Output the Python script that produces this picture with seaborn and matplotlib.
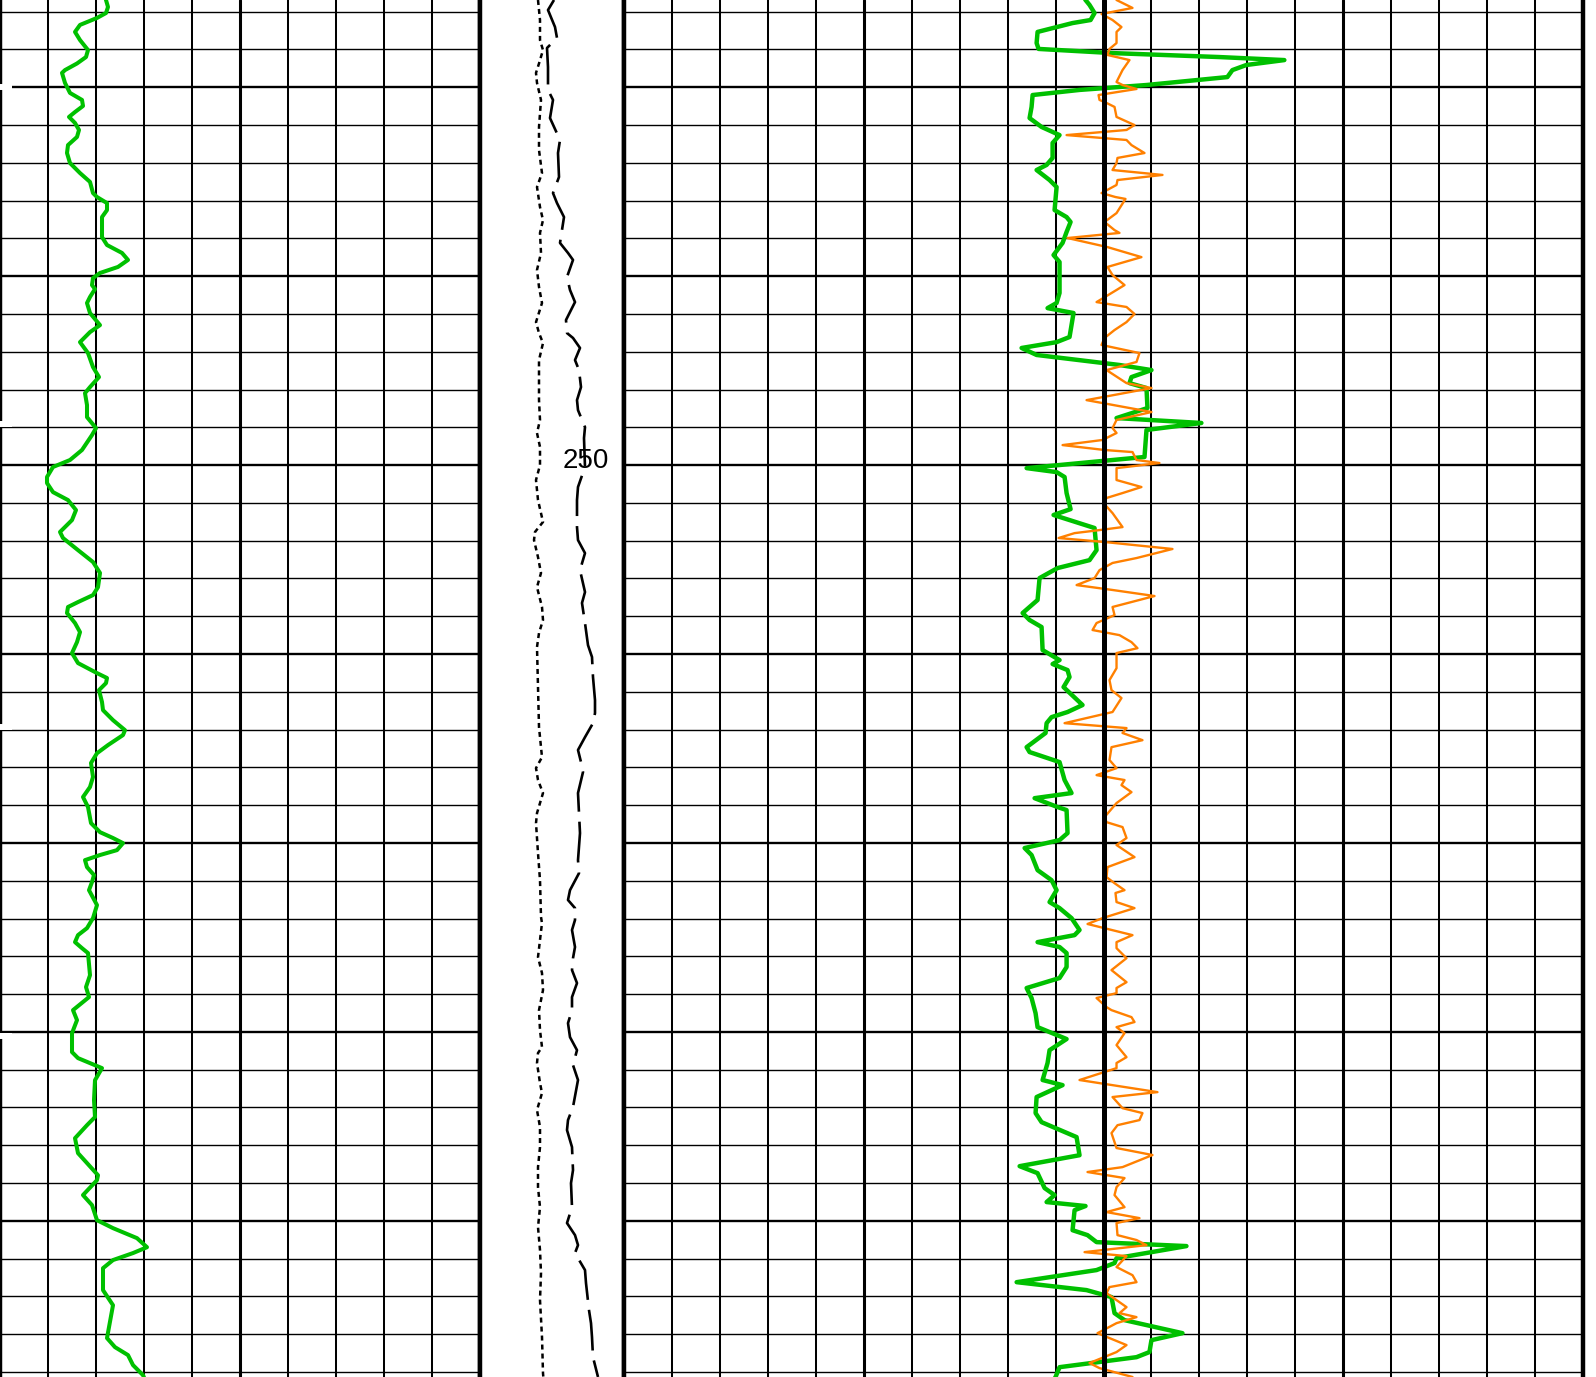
import numpy as np
import matplotlib
matplotlib.use("Agg")
import matplotlib.pyplot as plt
import seaborn as sns

# ---------------- data ----------------
# Track 1 : gamma-ray style curve (0-120 scale)
gr_depth = [224.96, 225.38, 225.75, 226.07, 226.33, 226.70, 227.07, 227.50, 228.03, 228.40,
            228.74, 229.09, 229.24, 229.77, 230.30, 230.67, 230.99, 231.31, 231.57, 231.89,
            232.26, 232.63, 233.06, 233.48, 234.01, 234.54, 235.01, 235.60, 235.81, 236.13,
            236.50, 236.87, 237.93, 238.35, 238.77, 239.14, 239.51, 239.83, 240.10, 240.47,
            240.68, 241.10, 241.42, 241.95, 242.59, 242.96, 243.49, 244.07, 244.81, 245.34,
            245.87, 246.19, 246.82, 247.46, 248.04, 248.41, 249.20, 249.73, 250.10, 250.63,
            250.95, 251.43, 251.85, 252.38, 252.91, 253.54, 253.86, 254.50, 255.13, 255.71,
            256.46, 256.88, 257.25, 257.51, 257.83, 258.36, 258.84, 259.37, 259.95, 260.48,
            261.01, 261.27, 261.54, 261.91, 262.54, 262.97, 263.50, 264.03, 264.29, 264.82,
            265.25, 265.77, 266.51, 267.04, 267.57, 268.10, 268.95, 269.43, 269.74, 270.01,
            270.38, 270.64, 270.91, 271.28, 271.70, 272.07, 272.50, 273.29, 273.98, 274.51,
            274.88, 275.25, 275.57, 275.83, 277.00, 277.63, 278.16, 278.85, 279.38, 280.07,
            281.07, 281.39, 281.92, 282.56, 283.61, 284.51, 284.94, 285.63, 286.42, 286.95,
            287.59, 287.85, 288.64, 289.17, 289.97, 290.39, 290.92, 291.40, 291.71, 292.08,
            292.51, 293.67, 294.47, 296.21, 296.69, 297.11, 297.64, 298.17, 298.54]
gr_value = [26.0, 26.5, 27.0, 26.5, 24.25, 20.0, 18.75, 20.0, 22.0, 21.5,
            19.25, 16.25, 15.5, 16.25, 17.5, 20.5, 20.75, 18.75, 17.25, 18.75,
            19.75, 19.25, 17.0, 16.75, 17.5, 20.0, 22.5, 23.25, 24.25, 26.75,
            26.75, 25.5, 25.5, 26.75, 30.5, 32.0, 29.5, 25.0, 23.25, 23.0,
            23.75, 22.5, 21.75, 22.5, 25.0, 22.5, 20.0, 22.0, 23.25, 24.75,
            22.5, 21.25, 21.75, 21.75, 24.0, 23.0, 20.5, 17.5, 13.25, 11.75,
            11.75, 13.25, 17.0, 19.0, 18.0, 15.0, 15.75, 19.5, 23.25, 25.0,
            24.5, 23.25, 19.5, 17.0, 16.75, 18.75, 20.0, 19.25, 18.0, 19.5,
            24.25, 26.75, 26.5, 24.75, 25.5, 25.75, 28.25, 31.25, 30.75, 27.0,
            24.25, 22.75, 23.25, 22.5, 20.75, 22.0, 22.75, 25.0, 28.25, 30.75,
            29.25, 25.0, 21.25, 21.75, 23.5, 23.0, 22.25, 24.25, 23.25, 21.75,
            19.5, 18.75, 20.5, 22.0, 22.5, 21.5, 22.25, 18.25, 19.25, 18.0,
            18.0, 19.5, 25.5, 23.75, 23.5, 23.75, 21.75, 18.75, 19.5, 21.75,
            24.5, 24.25, 20.75, 23.0, 24.25, 28.25, 34.25, 36.75, 33.25, 28.25,
            25.75, 25.75, 28.25, 26.75, 28.75, 32.0, 33.25, 35.75, 36.5]

# Depth track : dotted curve and dashed curve (0-72 scale)
dotted_depth = [225.38, 226.44, 227.50, 228.03, 228.74, 229.24, 229.77, 230.67, 232.10, 233.32,
                234.54, 235.28, 236.34, 237.03, 237.71, 238.77, 239.67, 240.57, 241.42, 242.43,
                243.01, 243.54, 244.44, 246.56, 247.61, 248.30, 249.04, 250.00, 250.79, 251.85,
                253.01, 253.54, 253.97, 254.87, 255.71, 256.46, 257.51, 258.20, 258.89, 259.63,
                261.75, 263.87, 264.93, 265.46, 266.04, 266.67, 267.36, 268.42, 268.95, 270.54,
                271.97, 273.92, 274.24, 275.14, 276.04, 276.89, 277.79, 278.85, 279.91, 280.81,
                281.12, 281.65, 282.71, 283.24, 284.14, 285.04, 286.10, 287.16, 288.22, 289.28,
                290.34, 291.55, 292.77, 294.20, 296.16, 298.07, 298.70]
dotted_value = [29.0, 30.0, 30.0, 31.5, 29.5, 28.0, 28.5, 30.5, 29.5, 29.5,
                31.0, 28.5, 30.0, 31.5, 30.0, 30.5, 28.5, 29.5, 31.0, 28.0,
                29.5, 31.5, 29.5, 29.5, 30.0, 28.5, 30.0, 30.0, 28.0, 29.0,
                31.5, 27.5, 27.0, 29.0, 30.5, 28.5, 31.0, 31.5, 29.5, 28.5,
                29.0, 29.5, 30.5, 31.0, 28.0, 29.0, 31.5, 28.5, 28.0, 29.0,
                30.0, 30.5, 31.0, 30.0, 29.0, 31.0, 31.5, 29.5, 30.0, 31.0,
                29.0, 28.5, 30.0, 31.0, 28.5, 30.0, 30.0, 29.0, 29.0, 30.0,
                29.0, 30.0, 30.5, 30.0, 31.0, 31.5, 32.0]

dashed_depth = [225.38, 225.91, 226.81, 227.39, 227.92, 228.93, 230.14, 230.67, 231.63, 232.79,
                233.48, 234.75, 235.60, 236.13, 236.87, 238.24, 238.77, 239.14, 240.04, 240.73,
                241.37, 242.32, 243.01, 243.27, 243.80, 244.44, 244.97, 245.87, 246.56, 247.09,
                247.99, 248.57, 250.10, 251.16, 251.85, 253.28, 253.97, 254.66, 255.56, 256.72,
                257.30, 258.36, 259.53, 260.16, 261.22, 262.44, 263.13, 263.66, 264.40, 265.08,
                265.72, 266.25, 267.36, 268.42, 269.48, 270.91, 271.60, 272.50, 273.02, 273.45,
                274.08, 274.61, 275.51, 276.10, 276.73, 277.42, 278.16, 278.85, 279.54, 280.28,
                280.97, 281.76, 282.55, 283.98, 284.67, 285.20, 286.10, 287.32, 288.01, 289.28,
                290.12, 290.76, 291.29, 291.71, 292.61, 293.30, 294.73, 295.42, 296.16, 297.22,
                298.27]
dashed_value = [37.0, 34.0, 37.5, 38.5, 33.5, 34.0, 34.0, 36.5, 35.0, 40.0,
                39.0, 39.5, 36.5, 38.5, 42.0, 40.0, 44.0, 46.5, 43.5, 45.0,
                47.5, 43.0, 43.5, 46.5, 50.0, 47.5, 49.5, 50.5, 48.5, 49.0,
                52.5, 52.0, 52.5, 49.0, 48.5, 48.5, 49.0, 52.5, 50.0, 52.5,
                51.0, 52.5, 54.0, 56.0, 56.5, 57.5, 57.5, 56.5, 52.5, 49.0,
                50.5, 51.5, 49.0, 49.5, 50.0, 49.0, 49.5, 45.0, 44.0, 47.5,
                47.5, 46.0, 47.5, 46.5, 46.0, 48.5, 46.0, 46.0, 44.0, 45.0,
                48.5, 46.5, 49.0, 46.5, 44.0, 43.5, 46.0, 46.5, 45.5, 46.0,
                43.5, 47.5, 49.0, 47.5, 52.5, 53.0, 54.5, 55.5, 56.0, 56.5,
                59.0]

# Track 3 : thick green curve and thin orange curve (0-120 scale)
green3_depth = [224.96, 225.38, 225.64, 226.07, 226.44, 226.60, 227.07, 227.66, 227.97, 228.19,
                228.40, 228.56, 228.82, 229.09, 229.46, 229.88, 230.14, 230.41, 231.04, 231.63,
                232.10, 232.53, 232.95, 233.74, 234.11, 234.38, 234.91, 235.28, 236.50, 236.87,
                237.13, 237.66, 238.24, 238.88, 239.25, 240.36, 240.89, 241.42, 241.69, 241.95,
                243.22, 243.49, 243.80, 244.17, 244.70, 244.97, 245.34, 245.66, 245.92, 246.98,
                247.51, 247.77, 248.14, 249.57, 250.16, 250.37, 250.63, 251.48, 252.33, 252.64,
                253.33, 254.50, 255.03, 255.45, 255.98, 257.14, 257.83, 258.20, 258.57, 259.79,
                260.32, 260.53, 260.85, 261.22, 261.75, 262.70, 263.07, 263.34, 263.66, 264.18,
                264.93, 265.19, 265.72, 266.67, 267.36, 267.63, 268.10, 268.26, 269.48, 269.85,
                270.27, 270.64, 271.44, 271.97, 272.50, 273.13, 273.45, 273.98, 274.61, 274.88,
                275.25, 275.51, 275.83, 276.57, 277.15, 277.68, 278.21, 279.01, 279.75, 280.38,
                280.97, 281.65, 282.55, 282.82, 283.45, 284.30, 284.78, 285.57, 286.53, 287.11,
                287.48, 288.27, 288.64, 289.01, 289.22, 289.44, 290.50, 290.76, 291.13, 291.34,
                291.98, 292.24, 292.61, 293.25, 293.67, 294.04, 294.89, 295.26, 295.95, 296.32,
                296.95, 297.22, 297.75, 298.27, 298.60]
green3_value = [57.25, 57.75, 58.25, 58.88, 58.38, 56.13, 51.75, 51.63, 51.88, 61.13,
                74.5, 82.63, 77.88, 76.13, 75.5, 65.38, 57.0, 51.13, 51.0, 50.75,
                52.25, 54.5, 53.63, 53.63, 52.88, 51.63, 53.25, 54.13, 53.88, 55.38,
                55.88, 55.38, 54.88, 53.75, 54.5, 54.5, 54.5, 54.13, 53.0, 56.25,
                55.75, 54.13, 49.75, 51.63, 62.0, 66.0, 63.5, 63.25, 65.38, 65.5,
                61.63, 72.25, 65.38, 65.13, 50.38, 54.13, 55.13, 55.38, 55.88, 53.75,
                58.88, 59.13, 58.25, 54.25, 52.0, 51.75, 49.88, 50.75, 52.25, 52.38,
                54.5, 53.63, 55.5, 55.75, 55.0, 57.38, 55.5, 53.5, 52.88, 52.75,
                50.38, 50.75, 54.5, 55.13, 56.0, 51.38, 54.25, 55.38, 55.5, 54.5,
                50.13, 51.0, 51.75, 53.5, 54.13, 53.25, 54.5, 56.0, 57.0, 56.38,
                51.75, 54.5, 55.38, 55.38, 54.5, 50.38, 51.0, 51.5, 51.75, 55.38,
                53.25, 53.0, 52.38, 54.88, 51.63, 51.5, 52.25, 56.63, 57.0, 49.5,
                51.75, 52.63, 53.88, 52.88, 57.75, 56.38, 56.13, 58.0, 59.13, 70.38,
                61.63, 61.38, 59.13, 49.13, 57.88, 61.0, 61.38, 62.63, 69.88, 66.0,
                65.75, 64.13, 54.5, 54.0, 53.5]

orange3_depth = [224.96, 225.38, 225.80, 226.12, 226.44, 226.81, 227.07, 227.66, 227.97, 228.29,
                 228.56, 229.09, 229.72, 229.88, 230.09, 230.41, 230.67, 230.83, 231.04, 231.57,
                 232.00, 232.26, 232.53, 232.79, 233.06, 233.48, 233.74, 234.01, 234.38, 234.64,
                 234.91, 235.17, 235.60, 235.81, 235.91, 236.66, 237.13, 237.56, 237.71, 237.98,
                 238.46, 238.99, 239.51, 239.94, 240.47, 240.73, 241.37, 241.63, 242.00, 242.43,
                 242.85, 243.27, 243.64, 244.07, 244.54, 244.97, 245.66, 245.92, 246.56, 247.19,
                 247.61, 248.04, 248.30, 248.67, 248.94, 249.20, 249.31, 249.73, 249.89, 250.16,
                 250.79, 251.16, 251.48, 251.74, 252.01, 252.54, 253.28, 253.44, 253.60, 253.86,
                 254.07, 254.44, 254.92, 255.18, 255.56, 255.98, 256.35, 256.61, 256.93, 257.51,
                 257.94, 258.36, 258.73, 259.00, 259.37, 259.69, 259.95, 260.75, 261.38, 261.91,
                 262.33, 263.07, 263.66, 263.92, 264.18, 264.56, 264.93, 265.61, 266.04, 266.41,
                 266.67, 266.94, 267.31, 267.89, 268.63, 268.90, 269.16, 269.74, 270.11, 270.75,
                 271.28, 271.81, 272.13, 272.50, 272.65, 273.13, 273.45, 273.98, 274.29, 274.88,
                 275.25, 275.57, 276.10, 276.73, 277.37, 277.68, 277.95, 278.21, 278.69, 278.85,
                 279.22, 279.48, 279.75, 280.07, 280.70, 281.34, 281.65, 281.92, 282.55, 283.19,
                 283.45, 284.04, 284.30, 284.67, 284.94, 285.36, 286.15, 286.52, 287.16, 287.42,
                 287.74, 288.22, 288.64, 289.28, 289.54, 289.86, 290.12, 290.76, 291.02, 291.29,
                 291.66, 291.87, 292.45, 292.88, 293.25, 293.51, 293.83, 294.57, 294.89, 295.10,
                 295.42, 295.95, 296.58, 296.95, 297.53, 297.80, 298.27]
orange3_value = [62.5, 61.63, 63.63, 59.75, 61.13, 62.25, 61.63, 61.63, 60.75, 60.5,
                 63.25, 62.38, 61.63, 62.38, 64.13, 59.38, 59.5, 60.38, 61.38, 61.63,
                 63.88, 62.88, 55.38, 62.88, 63.5, 65.13, 61.75, 61.63, 61.13, 67.38,
                 61.75, 61.63, 59.75, 61.5, 62.75, 61.63, 60.13, 61.38, 62.0, 55.5,
                 60.5, 64.75, 60.5, 61.13, 62.63, 61.63, 59.13, 62.88, 63.88, 62.88,
                 61.38, 60.13, 59.75, 64.5, 64.13, 60.38, 62.88, 66.0, 57.88, 66.0,
                 61.63, 61.13, 61.63, 59.88, 54.88, 60.13, 63.63, 64.13, 67.0, 61.63,
                 61.63, 64.75, 62.38, 60.38, 60.0, 61.13, 62.38, 59.5, 56.38, 54.38,
                 60.13, 68.63, 64.13, 61.13, 59.5, 58.88, 56.63, 61.13, 66.38, 61.13,
                 61.38, 59.13, 58.63, 62.0, 63.5, 64.25, 61.63, 61.63, 60.75, 61.0,
                 62.25, 61.13, 55.13, 62.88, 62.38, 64.88, 61.0, 60.75, 61.63, 59.13,
                 62.63, 62.25, 63.5, 61.63, 60.13, 60.38, 62.38, 62.88, 61.63, 63.88,
                 60.5, 60.38, 61.38, 62.63, 61.5, 61.63, 63.88, 59.88, 58.0, 63.63,
                 61.63, 61.63, 62.88, 61.0, 62.88, 61.63, 61.63, 59.13, 60.38, 61.0,
                 63.5, 63.88, 61.63, 62.63, 61.63, 62.88, 61.63, 61.63, 57.0, 66.75,
                 61.13, 62.38, 64.88, 64.5, 61.75, 61.0, 61.63, 66.13, 62.38, 58.0,
                 62.63, 61.63, 61.38, 62.63, 60.38, 64.5, 61.63, 61.75, 64.13, 65.38,
                 57.63, 62.88, 61.63, 63.63, 64.13, 60.75, 60.38, 62.88, 62.0, 64.13,
                 61.63, 59.25, 62.88, 61.63, 58.25, 59.5, 63.63]

depth_label = "250"
label_depth = 250
marker_depths = [230.0, 247.85, 263.87, 280.22]

for a, b in [(gr_depth, gr_value), (dotted_depth, dotted_value), (dashed_depth, dashed_value),
             (green3_depth, green3_value), (orange3_depth, orange3_value)]:
    assert len(a) == len(b), (len(a), len(b))

# ---------------- figure ----------------
sns.set_style("white")
plt.rcParams['font.family'] = ['Liberation Sans', 'DejaVu Sans']

W, H = 1596, 1377
fig = plt.figure(figsize=(W / 100, H / 100), dpi=100)
DEPTH_TOP, DEPTH_BOT = 225.38, 298.27
GREEN = "#00C000"
ORANGE = "#FF8000"


def add_track(x0, x1):
    ax = fig.add_axes([x0 / W, 0, (x1 - x0) / W, 1])
    ax.set_facecolor("white")
    for s in ("top", "bottom"):
        ax.spines[s].set_visible(False)
    for s in ("left", "right"):
        ax.spines[s].set_color("black")
        ax.spines[s].set_linewidth(3.2)
    ax.tick_params(which="both", length=0, labelbottom=False, labelleft=False)
    return ax


def grid_track(ax, xmax, xstep, xmajor):
    ax.set_xticks(np.arange(0, xmax + 0.01, xstep), minor=True)
    ax.set_xticks(xmajor)
    ax.set_yticks(np.arange(226, 299, 2), minor=True)
    ax.set_yticks(np.arange(230, 299, 10))
    ax.grid(which="minor", axis="x", color="black", lw=1.45)
    ax.grid(which="major", axis="x", color="black", lw=2.2)
    ax.grid(which="minor", axis="y", color="black", lw=1.0)
    ax.grid(which="major", axis="y", color="black", lw=1.7)
    ax.set_axisbelow(True)


curve_kw = dict(orient="y", sort=False, estimator=None,
                solid_joinstyle="round", solid_capstyle="round")

# Track 1
ax1 = add_track(0, 480)
sns.lineplot(x=gr_value, y=gr_depth, ax=ax1, color=GREEN, linewidth=2.9, **curve_kw)
ax1.set_xlim(0, 120)
ax1.set_ylim(DEPTH_BOT, DEPTH_TOP)
grid_track(ax1, 120, 12, [60])
ax1.hlines(marker_depths, 0, 12 / 480, transform=ax1.get_yaxis_transform(),
           colors="white", lw=4.3, zorder=6, clip_on=False)

# Depth track
axd = add_track(480, 624)
sns.lineplot(x=dotted_value, y=dotted_depth, orient="y", sort=False, estimator=None,
             ax=axd, color="black", linewidth=1.8, linestyle=(0, (2.0, 1.6)))
sns.lineplot(x=dashed_value, y=dashed_depth, orient="y", sort=False, estimator=None,
             ax=axd, color="black", linewidth=1.9, linestyle=(0, (15.5, 3.8)))
axd.set_xlim(0, 72)
axd.set_ylim(DEPTH_BOT, DEPTH_TOP)
axd.text(0.733, label_depth + 0.15, depth_label, transform=axd.get_yaxis_transform(),
         ha="center", va="baseline", fontsize=20, color="black")

# Track 3
ax3 = add_track(624, 1583)
sns.lineplot(x=green3_value, y=green3_depth, ax=ax3, color=GREEN, linewidth=3.2,
             zorder=3, **curve_kw)
sns.lineplot(x=orange3_value, y=orange3_depth, ax=ax3, color=ORANGE, linewidth=1.7,
             zorder=3, **curve_kw)
ax3.set_xlim(0, 120)
ax3.set_ylim(DEPTH_BOT, DEPTH_TOP)
grid_track(ax3, 120, 6, [30, 90])
ax3.axvline(60, color="black", lw=3.6, zorder=4)

for ax in (ax1, axd, ax3):
    ax.set_xlabel("")
    ax.set_ylabel("")
    if ax.get_legend() is not None:
        ax.get_legend().remove()

fig.savefig("out.png", dpi=100, facecolor="white")
